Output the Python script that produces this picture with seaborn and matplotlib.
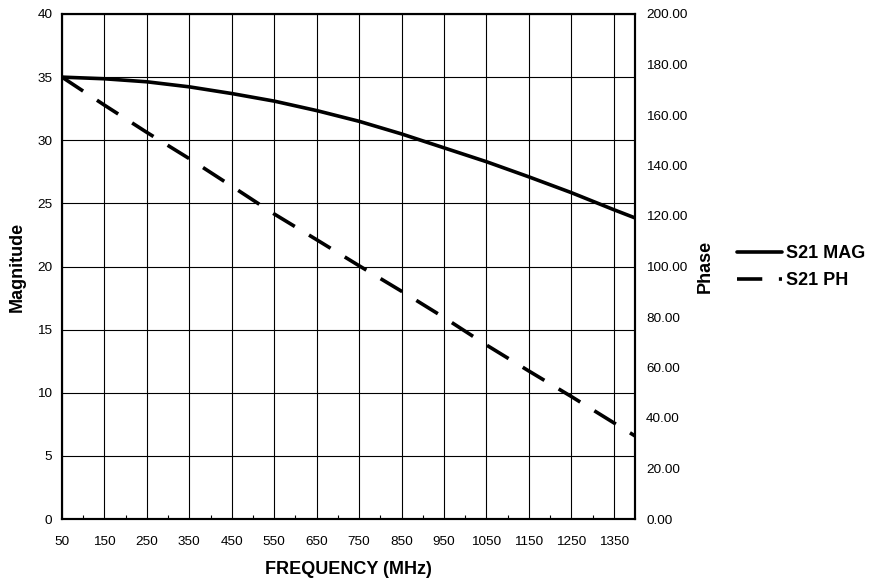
import matplotlib
matplotlib.use("Agg")
import matplotlib.pyplot as plt
import seaborn as sns
import pandas as pd
from matplotlib.ticker import FixedLocator, FuncFormatter

# Data
freq = [50, 150, 250, 350, 450, 550, 650, 750, 850, 950, 1050, 1150, 1250, 1350, 1400]
s21_mag = [35.0, 34.87, 34.63, 34.23, 33.7, 33.1, 32.35, 31.5, 30.5, 29.4, 28.3, 27.1, 25.85, 24.5, 23.85]
s21_ph = [175.0, 163.9, 153.1, 142.7, 131.8, 120.8, 110.6, 100.3, 90.2, 79.8, 68.9, 58.6, 48.5, 38.1, 32.9]
xticks = [50, 150, 250, 350, 450, 550, 650, 750, 850, 950, 1050, 1150, 1250, 1350]

sns.set_theme(style="white")
plt.rcParams['font.family'] = ['Liberation Sans', 'DejaVu Sans']
plt.rcParams['text.color'] = 'black'
plt.rcParams['axes.labelcolor'] = 'black'
plt.rcParams['xtick.color'] = 'black'
plt.rcParams['ytick.color'] = 'black'

df = pd.DataFrame({"freq": freq, "mag": s21_mag, "ph": s21_ph})

fig = plt.figure(figsize=(8.69, 5.83), dpi=100)
ax = fig.add_axes([62/869, 1-519/583, (635-62)/869, (519-14)/583])
ax2 = ax.twinx()

sns.lineplot(data=df, x="freq", y="mag", ax=ax, color="black", linewidth=2.6, label="S21 MAG", legend=False)
sns.lineplot(data=df, x="freq", y="ph", ax=ax2, color="black", linewidth=2.6, label="S21 PH", legend=False)
ax2.lines[0].set_dashes((7.0, 4.6))
ax2.lines[0].set_dash_capstyle('butt')

ax.set_xlim(50, 1400)
ax.set_ylim(0, 40)
ax2.set_ylim(0, 200)

ax.set_xticks(xticks)
ax.xaxis.set_minor_locator(FixedLocator(list(range(100, 1400, 100))))
ax.set_yticks(range(0, 41, 5))
ax2.set_yticks(range(0, 201, 20))
ax2.yaxis.set_major_formatter(FuncFormatter(lambda v, p: f"{v:.2f}"))

ax.grid(True, which="major", color="black", linewidth=0.8)
ax.set_axisbelow(True)

ax.tick_params(axis="x", which="major", direction="in", length=0, pad=12, labelsize=9.7, colors="black")
ax.tick_params(axis="x", which="minor", direction="in", length=3, width=0.8, color="black", bottom=True)
ax.tick_params(axis="y", direction="in", length=0, pad=7, labelsize=9.7, colors="black")
ax2.tick_params(axis="y", direction="in", length=0, pad=8, labelsize=9.7, colors="black")

for a in (ax, ax2):
    for s in a.spines.values():
        s.set_color("black")
        s.set_linewidth(1.5)
        s.set_visible(True)

ax.set_xlabel("")
ax.set_ylabel("")
ax2.set_ylabel("")
fig.text(348.5/869, 1-570/583, "FREQUENCY (MHz)", ha="center", va="center", fontsize=13, fontweight="bold")
fig.text(17/869, 1-267/583, "Magnitude", ha="center", va="center", rotation=90, fontsize=13, fontweight="bold")
fig.text(705/869, 1-266/583, "Phase", ha="center", va="center", rotation=90, fontsize=13, fontweight="bold")

handles = ax.get_lines()[:1] + ax2.get_lines()[:1]
fig.legend(handles, ["S21 MAG", "S21 PH"], loc="center left", bbox_to_anchor=(737/869, 1-267/583),
           frameon=False, borderpad=0, borderaxespad=0, handlelength=2.5, handletextpad=0.2,
           labelspacing=0.55, prop={"weight": "bold", "size": 13})

fig.savefig("out.png", dpi=100)
